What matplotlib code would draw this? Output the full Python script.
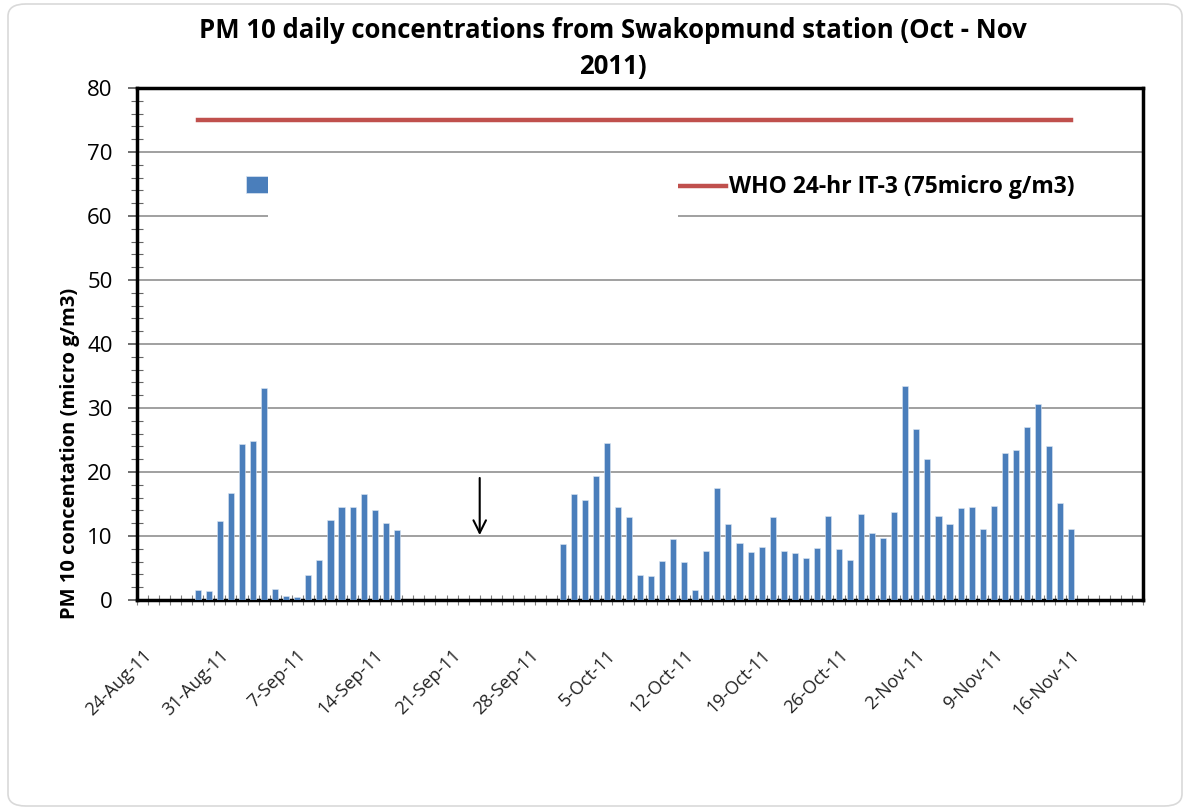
import numpy as np
import pandas as pd
import matplotlib
matplotlib.use("Agg")
import matplotlib.pyplot as plt
import matplotlib.dates as mdates
import matplotlib.transforms as mtransforms
from matplotlib.patches import FancyBboxPatch, Rectangle
from matplotlib.lines import Line2D

plt.rcParams['font.family'] = ['Open Sans', 'DejaVu Sans']

# daily PM10 values (micro g/m3), two measurement periods
start1 = '2011-08-29'
pm10_1 = [1.5, 1.35, 12.3, 16.7, 24.4, 24.9, 33.2, 1.7, 0.7, 0.5,
          3.9, 6.3, 12.5, 14.6, 14.6, 16.6, 14.0, 12.0, 10.9]
start2 = '2011-10-01'
pm10_2 = [8.7, 16.5, 15.6, 19.3, 24.5, 14.5, 12.9, 3.9, 3.7, 6.1,
          9.5, 5.9, 1.5, 7.7, 17.5, 11.9, 8.9, 7.5, 8.3, 12.9,
          7.7, 7.3, 6.5, 8.1, 13.1, 7.9, 6.3, 13.5, 10.5, 9.7,
          13.7, 33.4, 26.7, 22.1, 13.1, 11.9, 14.4, 14.5, 11.1, 14.7,
          23.0, 23.5, 27.0, 30.6, 24.1, 15.1, 11.1]
who_limit = 75
who_label = 'WHO 24-hr IT-3 (75micro g/m3)'
axis_start = '2011-08-24'
axis_end = '2011-11-23'
arrow_day = '2011-09-24'
arrow_from, arrow_to = 19.5, 9.7

dates1 = pd.date_range(start1, periods=len(pm10_1), freq='D')
dates2 = pd.date_range(start2, periods=len(pm10_2), freq='D')
x1 = mdates.date2num(dates1) + 0.5
x2 = mdates.date2num(dates2) + 0.5
x0 = mdates.date2num(pd.Timestamp(axis_start))
xe = mdates.date2num(pd.Timestamp(axis_end))

W, H = 1190, 810
fig = plt.figure(figsize=(W / 100, H / 100), dpi=100)
ax = fig.add_axes([137 / W, (H - 600) / H, (1143 - 137) / W, (600 - 88) / H])

bar_col = '#4a7ebb'
ax.bar(x1, pm10_1, width=0.55, color=bar_col, edgecolor='#dce6f2', linewidth=0.4, zorder=3)
ax.bar(x2, pm10_2, width=0.55, color=bar_col, edgecolor='#dce6f2', linewidth=0.4, zorder=3)
ax.plot([x1[0], x2[-1]], [who_limit, who_limit], color='#c0504d', lw=3.2, zorder=4)

ax.annotate('', xy=(mdates.date2num(pd.Timestamp(arrow_day)), arrow_to),
            xytext=(mdates.date2num(pd.Timestamp(arrow_day)), arrow_from),
            arrowprops=dict(arrowstyle='->,head_length=0.9,head_width=0.45', color='black', lw=1.5),
            zorder=5)

ax.set_xlim(x0, xe)
ax.set_ylim(0, 80)
ax.set_yticks(np.arange(0, 81, 10))
ax.set_yticks(np.arange(0, 81, 2), minor=True)
ax.yaxis.grid(True, color='#a0a0a0', lw=1.4, zorder=0)
ax.tick_params(axis='y', which='major', direction='out', length=6.5, width=1.2, labelsize=16,
               colors='#555555', labelcolor='black', pad=11)
ax.tick_params(axis='y', which='minor', direction='inout', length=8, width=0.8, colors='#666666')

# weekly labels centred on the day, daily tick marks between days
label_days = pd.date_range(axis_start, '2011-11-16', freq='7D')
ax.set_xticks(mdates.date2num(label_days) + 0.5)
ax.set_xticklabels([f"{d.day}-{d.strftime('%b')}-11" for d in label_days])
ax.set_xticks(np.arange(x0, xe + 0.5, 1), minor=True)
ax.tick_params(axis='x', which='major', length=0, labelsize=13, labelcolor='#222222', pad=38)
ax.tick_params(axis='x', which='minor', direction='inout', length=7, width=0.8, colors='#808080')
shift = mtransforms.ScaledTranslation(6 / 100, 0, fig.dpi_scale_trans)
for lab in ax.get_xticklabels():
    lab.set_rotation(45)
    lab.set_ha('right')
    lab.set_va('center')
    lab.set_rotation_mode('anchor')
    lab.set_transform(lab.get_transform() + shift)

for s in ax.spines.values():
    s.set_linewidth(2.5)
    s.set_color('black')
ax.set_axisbelow(True)

# legend area (text of the first entry is blanked out in the original)
fig.patches.append(Rectangle((268 / W, 1 - 222 / H), (678 - 268) / W, 50 / H,
                             transform=fig.transFigure, facecolor='white', edgecolor='none', zorder=2))
ax.add_patch(Rectangle((246 / W, 1 - 193 / H), 22 / W, 17 / H, transform=fig.transFigure,
                       facecolor=bar_col, edgecolor='#dce6f2', lw=0.5, zorder=6, clip_on=False))
fig.add_artist(Line2D([678 / W, 726 / W], [1 - 186 / H] * 2, color='#c0504d', lw=3.2))
fig.text(729 / W, 1 - 187 / H, who_label, fontsize=16.5, fontweight='bold', va='center', ha='left')

fig.suptitle('PM 10 daily concentrations from Swakopmund station (Oct - Nov\n2011)',
             x=0.515, y=1 - 17 / H, fontsize=18.5, fontweight='bold', va='top', linespacing=1.42)
fig.text(70 / W, 1 - 453 / H, 'PM 10 concentation (micro g/m3)', rotation=90,
         fontsize=14.5, fontweight='bold', ha='center', va='center')

fig.patches.append(FancyBboxPatch((8 / W, 4 / H), 1 - 16 / W, 1 - 8 / H,
                                  boxstyle='round,pad=0,rounding_size=0.015',
                                  transform=fig.transFigure, facecolor='none',
                                  edgecolor='#d9d9d9', lw=1.2))

fig.savefig('out.png', dpi=100)
